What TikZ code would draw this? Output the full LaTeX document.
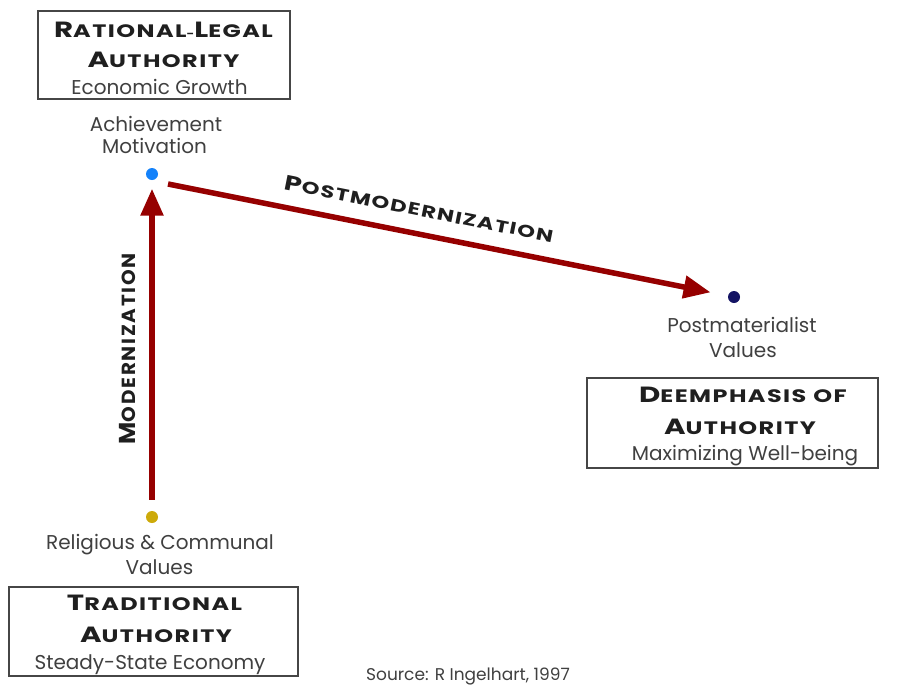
\documentclass[tikz,border=0pt]{standalone}
\usepackage{fontspec}
\setmainfont{Poppins}
\newfontfamily\headfont[FakeStretch=1.33,LetterSpace=8]{Poppins}
\newfontfamily\modfont[FakeStretch=1.05,LetterSpace=9]{Poppins}
\usetikzlibrary{arrows.meta,calc}
\definecolor{arrowred}{RGB}{150,0,0}
\definecolor{dotblue}{RGB}{20,130,250}
\definecolor{dotnavy}{RGB}{20,20,100}
\definecolor{dotgold}{RGB}{205,170,10}
\definecolor{boxgray}{RGB}{70,70,70}
\def\SCbig{20}\def\SCsmall{16}
\newcommand{\SCap}[2]{{\fontsize{\SCbig}{\SCbig}\selectfont #1}{\fontsize{\SCsmall}{\SCsmall}\selectfont #2}}
\begin{document}
\begin{tikzpicture}[x=1pt,y=-1pt,
  box/.style={draw=boxgray, line width=1.2pt, rectangle, inner sep=0pt},
  head/.style={font=\headfont\bfseries\def\SCbig{22}\def\SCsmall{18}, text=black!88, inner sep=0pt, text height=15pt, text depth=0pt},
  sub/.style={font=\fontsize{20}{20}\selectfont, text=black!75, inner sep=0pt, text height=14pt, text depth=0pt},
  lbl/.style={font=\fontsize{20}{20}\selectfont, text=black!75, inner sep=0pt, text height=14pt, text depth=0pt},
  dotnode/.style={circle, minimum size=12pt, inner sep=0pt},
  redarrow/.style={draw=arrowred, line width=5.5pt, -{Triangle[length=27pt,width=22pt]}},
  pmlabel/.style={font=\headfont\bfseries\def\SCbig{21}\def\SCsmall{17}, text=black!88, inner sep=0pt, text height=14pt, text depth=0pt},
  modlabel/.style={font=\modfont\bfseries\def\SCbig{23}\def\SCsmall{19}, text=black!88, inner sep=0pt, text height=17pt, text depth=0pt}
]
\useasboundingbox (0,0) rectangle (897,691);
\fill[white] (0,0) rectangle (897,691);

% boxes
\node[box, minimum width=252pt, minimum height=88pt] (rlbox) at (164,55) {};
\node[box, minimum width=291pt, minimum height=90pt] (debox) at (732.5,423) {};
\node[box, minimum width=289pt, minimum height=89pt] (trbox) at (153.5,631.5) {};

% box texts
\node[head] (rl1) at (163.5,30) {\SCap{R}{ATIONAL}-\SCap{L}{EGAL}};
\node[head] (rl2) at (163.5,60) {\SCap{A}{UTHORITY}};
\node[sub] (rl3) at (159.5,87) {Economic Growth};

\node[head] (de1) at (743,395) {\SCap{D}{EEMPHASIS}\hspace{7pt}\SCap{}{OF}};
\node[head] (de2) at (740,427) {\SCap{A}{UTHORITY}};
\node[sub] (de3) at (745,453) {Maximizing Well-being};

\node[head] (tr1) at (154.5,603) {\SCap{T}{RADITIONAL}};
\node[head] (tr2) at (156,635) {\SCap{A}{UTHORITY}};
\node[sub] (tr3) at (150,662) {Steady-State Economy};

% dots
\node[dotnode, fill=dotblue] (achieve) at (152,174) {};
\node[dotnode, fill=dotnavy] (postmat) at (734,297) {};
\node[dotnode, fill=dotgold] (relig) at (152,517) {};

% dot labels
\node[lbl] (ach1) at (156,124) {Achievement};
\node[lbl] (ach2) at (154.5,146) {Motivation};
\node[lbl] (pm1) at (742,325) {Postmaterialist};
\node[lbl] (pm2) at (743,350) {Values};
\node[lbl] (re1) at (160,542) {Religious \& Communal};
\node[lbl] (re2) at (159.5,567) {Values};

% arrows
\draw[redarrow, shorten <=11pt, shorten >=8.5pt] (relig) -- (achieve)
  node[pos=0.49, sloped, above=14pt, modlabel] (modlbl) {\SCap{M}{ODERNIZATION}};
\draw[redarrow, shorten >=17.7pt] ($(achieve)+(16,10)$) -- (postmat)
  node[pos=0.44, sloped, above=15pt, pmlabel] (pmlbl) {\SCap{P}{OSTMODERNIZATION}};

% source
\node[lbl, font=\fontsize{17}{17}\selectfont] (src) at (468,673) {Source: R Ingelhart, 1997};
\end{tikzpicture}
\end{document}
